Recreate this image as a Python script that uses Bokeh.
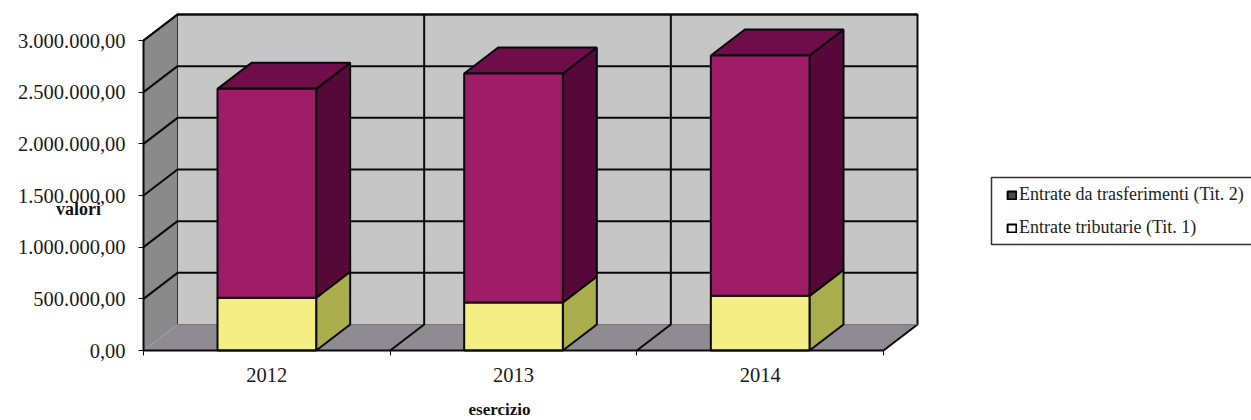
from bokeh.plotting import figure
from bokeh.models import FixedTicker, Legend, LegendItem, Label, ColumnDataSource
from bokeh.embed import file_html
from bokeh.resources import INLINE

categories = ["2012", "2013", "2014"]
entrate_tributarie = [510000, 465000, 529000]
entrate_trasferimenti = [2022000, 2215000, 2326000]
y_ticks = [0, 500000, 1000000, 1500000, 2000000, 2500000, 3000000]
y_tick_labels = ["0,00", "500.000,00", "1.000.000,00", "1.500.000,00", "2.000.000,00", "2.500.000,00", "3.000.000,00"]
series_names = ["Entrate da trasferimenti (Tit. 2)", "Entrate tributarie (Tit. 1)"]

# layout (page pixels)
W, H = 1251, 420
FX0, FY0 = 143, 350       # screen position of origin
PX_PER_CAT = 246.67
PX_PER_UNIT = 310 / 3000000
dx = 34 / PX_PER_CAT      # depth offsets
dy = 26 / PX_PER_UNIT
BAR = 0.40
YMAX = y_ticks[-1]
NC = len(categories)

def X(px): return (px - FX0) / PX_PER_CAT
def Y(py): return (FY0 - py) / PX_PER_UNIT

# the frame fills the whole canvas; the axes are pinned to the origin inside it
p = figure(width=W, height=H, output_backend="svg", toolbar_location=None,
           x_range=(X(0), X(W)), y_range=(Y(H), Y(0)),
           min_border_left=0, min_border_right=0, min_border_top=0, min_border_bottom=0)
p.outline_line_color = None
p.grid.visible = False
p.background_fill_color = "white"
p.border_fill_color = "white"

LINE = "#0a0a0a"
LW = 2
# walls and floor
p.patch([0, dx, dx, 0], [0, dy, YMAX + dy, YMAX], fill_color="#8a8a8a", line_color=None)
p.patch([0, NC, NC + dx, dx], [0, 0, dy, dy], fill_color="#8e8c92", line_color=None)
p.patch([dx, NC + dx, NC + dx, dx], [dy, dy, YMAX + dy, YMAX + dy], fill_color="#c6c6c6", line_color=None)
# walls' outlines
p.line([dx, dx], [dy, YMAX + dy], line_color="#333333", line_width=1)
p.line([0, dx, NC + dx, NC + dx, NC], [YMAX, YMAX + dy, YMAX + dy, dy, 0], line_color=LINE, line_width=LW)
p.line([dx, NC + dx], [dy, dy], line_color="#777777", line_width=1)
# grid lines
for v in y_ticks[1:]:
    p.line([0, dx, NC + dx], [v, v + dy, v + dy], line_color=LINE, line_width=LW)
for i in range(1, NC):
    p.line([i, i + dx, i + dx], [0, dy, YMAX + dy], line_color=LINE, line_width=LW)

lefts = [i + 0.5 - BAR / 2 for i in range(NC)]
rights = [i + 0.5 + BAR / 2 for i in range(NC)]
tops = [a + b for a, b in zip(entrate_tributarie, entrate_trasferimenti)]

def sides(bot, top):
    xs = [[r, r + dx, r + dx, r] for r in rights]
    ys = [[b, b + dy, t + dy, t] for b, t in zip(bot, top)]
    return xs, ys

def lids(top):
    xs = [[l, r, r + dx, l + dx] for l, r in zip(lefts, rights)]
    ys = [[t, t, t + dy, t + dy] for t in top]
    return xs, ys

zeros = [0] * NC
xs, ys = sides(zeros, entrate_tributarie)
p.patches(xs, ys, fill_color="#a9ad4c", line_color=LINE, line_width=LW)
xs, ys = sides(entrate_tributarie, tops)
p.patches(xs, ys, fill_color="#560838", line_color=LINE, line_width=LW)
xs, ys = lids(tops)
p.patches(xs, ys, fill_color="#6f0d4a", line_color=LINE, line_width=LW)
p.quad(left=lefts, right=rights, bottom=zeros, top=entrate_tributarie,
       fill_color="#f5ee84", line_color=LINE, line_width=LW)
p.quad(left=lefts, right=rights, bottom=entrate_tributarie, top=tops,
       fill_color="#a01c66", line_color=LINE, line_width=LW)

# axes
yax = p.yaxis[0]
yax.fixed_location = 0
yax.ticker = FixedTicker(ticks=y_ticks)
yax.major_label_overrides = dict(zip(y_ticks, y_tick_labels))
yax.bounds = (0, YMAX)
yax.major_tick_out = 5
yax.major_tick_in = 0
yax.minor_tick_out = 0
yax.minor_tick_in = 0
yax.major_label_standoff = 13
yax.major_label_text_font = "Liberation Serif"
yax.major_label_text_font_size = "20.5px"
yax.major_label_text_color = "#1a1a1a"
yax.axis_line_color = LINE
yax.axis_line_width = LW
yax.major_tick_line_color = LINE

centers = [i + 0.5 for i in range(NC)]
xax = p.xaxis[0]
xax.fixed_location = 0
xax.ticker = FixedTicker(ticks=centers, minor_ticks=list(range(NC + 1)))
xax.major_label_overrides = dict(zip(centers, categories))
xax.bounds = (0, NC)
xax.major_tick_line_color = None
xax.major_tick_out = 5
xax.major_tick_in = 0
xax.minor_tick_out = 5
xax.minor_tick_in = 0
xax.minor_tick_line_color = LINE
xax.major_label_standoff = 12
xax.major_label_text_font = "Liberation Serif"
xax.major_label_text_font_size = "20.5px"
xax.major_label_text_color = "#1a1a1a"
xax.axis_line_color = LINE
xax.axis_line_width = LW

# axis titles
p.add_layout(Label(x=X(78), y=Y(208), text="valori", text_align="center", text_baseline="middle",
                   text_font="Liberation Serif", text_font_style="bold", text_font_size="18px",
                   text_color="#111111", level="overlay"))
p.add_layout(Label(x=X(499), y=Y(409), text="esercizio", text_align="center", text_baseline="middle",
                   text_font="Liberation Serif", text_font_style="bold", text_font_size="17px",
                   text_color="#111111", level="overlay"))

# legend frame, open at the page's right edge as in the reference
p.line([X(W), X(991), X(991), X(W)], [Y(177), Y(177), Y(244), Y(244)], line_color="#333333", line_width=1.5)

nan = float("nan")
swatch = dict(left=[nan], right=[nan], bottom=[nan], top=[nan])
r_a = p.quad(source=ColumnDataSource(swatch), left="left", right="right", bottom="bottom", top="top",
             fill_color="#4a4a4a", line_color="#000000", line_width=2)
r_b = p.quad(source=ColumnDataSource(dict(swatch)), left="left", right="right", bottom="bottom", top="top",
             fill_color="#ffffff", line_color="#000000", line_width=2)
legend = Legend(items=[LegendItem(label=series_names[0], renderers=[r_a]),
                       LegendItem(label=series_names[1], renderers=[r_b])],
                location=(1006, H - 238), margin=0, padding=0, spacing=12,
                glyph_width=11, glyph_height=10, label_standoff=2, label_height=17,
                label_text_font="Liberation Serif", label_text_font_size="18px",
                label_text_color="#222222", border_line_color=None,
                background_fill_alpha=0)
p.add_layout(legend)

open("out.html", "w").write(file_html(p, INLINE))
